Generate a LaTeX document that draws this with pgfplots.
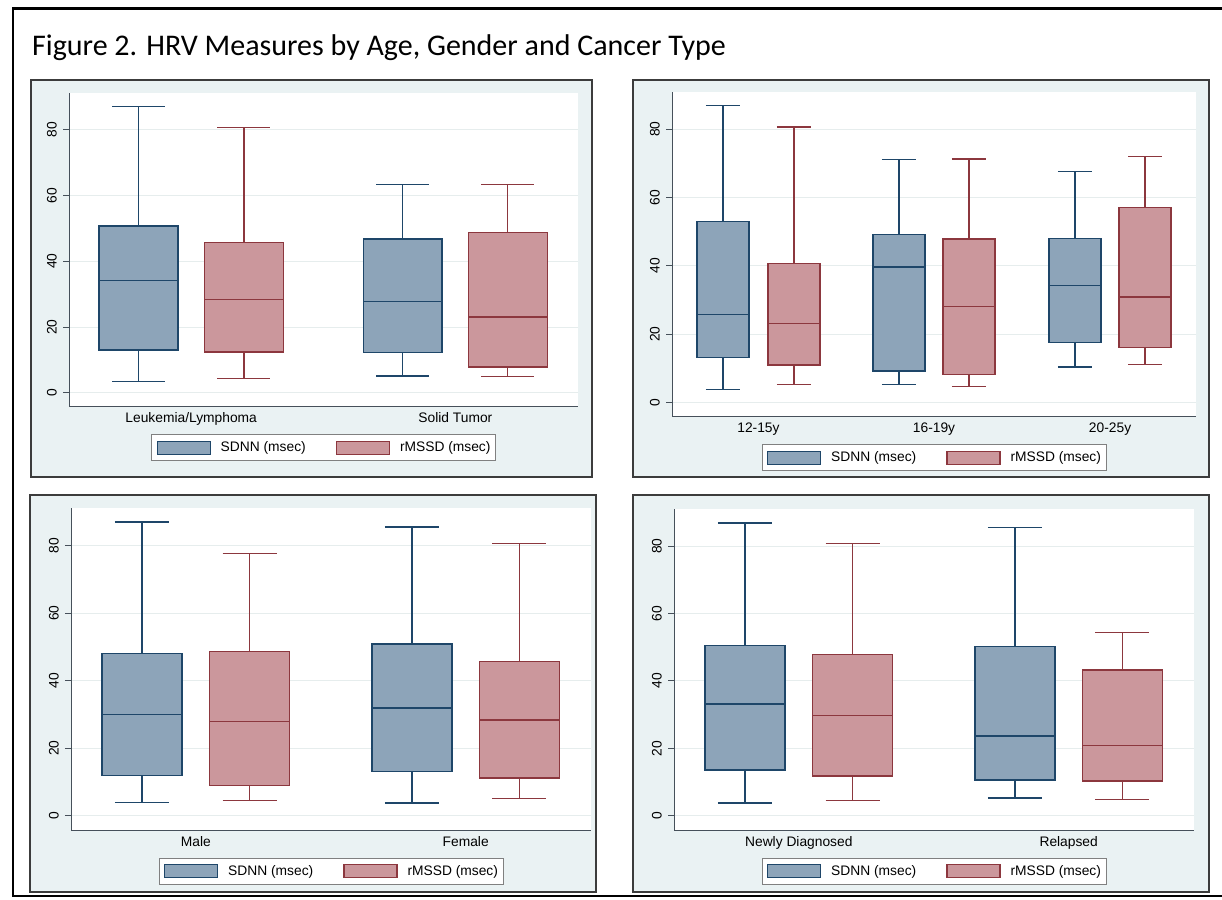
\documentclass[border=0pt]{standalone}
\usepackage{pgfplots}
\pgfplotsset{compat=1.18}
\usepgfplotslibrary{statistics}
\usepackage{fontspec}
\setmainfont{Liberation Sans}
\newfontfamily\titlefont{Carlito}
\definecolor{navyL}{RGB}{30,70,105}
\definecolor{navyF}{RGB}{141,164,185}
\definecolor{marL}{RGB}{140,55,62}
\definecolor{marF}{RGB}{203,151,156}
\definecolor{panelbg}{RGB}{234,242,243}
\definecolor{gridC}{RGB}{230,237,237}
\definecolor{axisC}{RGB}{70,80,90}
\definecolor{frameC}{RGB}{60,60,60}
\newcommand{\lab}{\fontsize{13.8}{16}\selectfont}
\def\BE{15.5}\def\WE{10.4}
\newcommand{\bx}[7]{\addplot[#1, boxplot prepared={draw direction=y, draw position=#2, box extend=\BE, whisker extend=\WE, lower whisker=#3, lower quartile=#4, median=#5, upper quartile=#6, upper whisker=#7}] coordinates {};}
\pgfplotsset{
 swatch/.style={legend image code/.code={\draw[##1, line width=1.2pt] (0pt,-6.5pt) rectangle (53pt,6.5pt);}},
 sdnn/.style={forget plot, draw=navyL, line width=1.4pt, mark=none, solid, boxplot/every box/.style={fill=navyF, draw=navyL}},
 rmssd/.style={forget plot, draw=marL, line width=1.4pt, mark=none, solid, boxplot/every box/.style={fill=marF, draw=marL}},
 hrv/.style={
  scale only axis, anchor=south west,
  xmin=0, xmax=100, ymin=-4.2, ymax=91,
  axis x line*=bottom, axis y line*=left,
  every outer x axis line/.append style={-},
  every outer y axis line/.append style={-},
  axis line style={draw=axisC, line width=1pt},
  axis background/.style={fill=white},
  ytick={0,20,40,60,80},
  ymajorgrids, grid style={draw=gridC, line width=1pt},
  tick align=outside, major tick length=6pt,
  y tick style={draw=axisC, line width=1pt},
  x tick style={draw=none},
  yticklabel style={rotate=90, anchor=south, inner sep=0pt, font=\lab, yshift=6pt},
  xticklabel style={anchor=north, inner sep=0pt, font=\lab},
  /pgf/number format/assume math mode=true,
  legend columns=2,
  legend style={at={(0.5,0)}, anchor=north, yshift=-27.5pt, draw=gray, line width=0.8pt, fill=white, font=\lab, inner xsep=5pt, inner ysep=6pt, nodes={inner sep=0pt},
   /tikz/every odd column/.append style={column sep=10pt},
   /tikz/every even column/.append style={column sep=30pt}},
 },
}
\newcommand{\leg}{%
 \addlegendimage{swatch, draw=navyL, fill=navyF}\addlegendentry{SDNN (msec)}
 \addlegendimage{swatch, draw=marL, fill=marF}\addlegendentry{rMSSD (msec)}}
\begin{document}
\begin{tikzpicture}
\useasboundingbox (0,0) rectangle (1222pt,-899pt);
\fill[white] (0,0) rectangle (1222pt,-899pt);
\draw[line width=2.5pt] (1222pt,-8.5pt) -- (13pt,-8.5pt) -- (13pt,-896pt) -- (1222pt,-896pt);
\node[anchor=base west, inner sep=0pt, font=\titlefont\fontsize{30}{35}\selectfont] at (32pt,-56pt) {Figure 2. HRV Measures by Age, Gender and Cancer Type};
\filldraw[fill=panelbg, draw=frameC, line width=1.5pt] (31pt,-80pt) rectangle (592pt,-477pt);
\filldraw[fill=panelbg, draw=frameC, line width=1.5pt] (633pt,-80pt) rectangle (1209pt,-477pt);
\filldraw[fill=panelbg, draw=frameC, line width=1.5pt] (30pt,-495pt) rectangle (596pt,-892pt);
\filldraw[fill=panelbg, draw=frameC, line width=1.5pt] (633pt,-495pt) rectangle (1209pt,-892pt);

% Panel 1: cancer type
\begin{axis}[hrv, at={(69pt,-406.7pt)}, width=509pt, height=313.4pt,
  xtick={24.0,75.9}, xticklabels={Leukemia/Lymphoma, Solid Tumor}]
\leg
\bx{sdnn}{13.65}{3.5}{13.0}{34.2}{50.7}{86.9}
\bx{rmssd}{34.35}{4.4}{12.4}{28.4}{45.6}{80.7}
\bx{sdnn}{65.55}{5.1}{12.2}{27.7}{46.8}{63.3}
\bx{rmssd}{86.2}{4.9}{7.9}{23.1}{48.7}{63.3}
\end{axis}

% Panel 2: age
\def\BE{9.9}\def\WE{6.5}
\begin{axis}[hrv, at={(672pt,-416.7pt)}, width=524pt, height=325pt,
  xtick={16.5,50,83.6}, xticklabels={12-15y, 16-19y, 20-25y}]
\leg
\bx{sdnn}{9.73}{3.7}{13.2}{25.7}{52.9}{86.9}
\bx{rmssd}{23.28}{5.2}{10.9}{23.1}{40.7}{80.7}
\bx{sdnn}{43.32}{5.2}{9.2}{39.6}{49.2}{71.1}
\bx{rmssd}{56.68}{4.6}{8.2}{28.0}{47.8}{71.3}
\bx{sdnn}{76.91}{10.4}{17.5}{34.3}{48.0}{67.7}
\bx{rmssd}{90.27}{11.1}{16.1}{30.9}{57.1}{72.1}
\end{axis}

% Panel 3: gender
\def\BE{15.4}\def\WE{10.4}
\begin{axis}[hrv, at={(71pt,-830pt)}, width=520pt, height=321.7pt,
  xtick={24.0,75.9}, xticklabels={Male, Female}]
\leg
\bx{sdnn}{13.65}{4.0}{11.9}{30.0}{48.1}{86.9}
\bx{rmssd}{34.35}{4.6}{9.0}{28.0}{48.6}{77.6}
\bx{sdnn}{65.55}{3.8}{13.2}{31.9}{50.8}{85.5}
\bx{rmssd}{86.2}{5.1}{11.2}{28.4}{45.6}{80.6}
\end{axis}

% Panel 4: diagnosis status
\begin{axis}[hrv, at={(674pt,-830pt)}, width=520pt, height=321pt,
  xtick={24.0,75.9}, xticklabels={Newly Diagnosed, Relapsed}]
\leg
\bx{sdnn}{13.65}{3.8}{13.6}{33.2}{50.5}{86.9}
\bx{rmssd}{34.35}{4.6}{11.8}{29.7}{47.9}{80.7}
\bx{sdnn}{65.55}{5.3}{10.6}{23.7}{50.2}{85.5}
\bx{rmssd}{86.2}{4.9}{10.3}{20.8}{43.2}{54.3}
\end{axis}
\end{tikzpicture}
\end{document}
